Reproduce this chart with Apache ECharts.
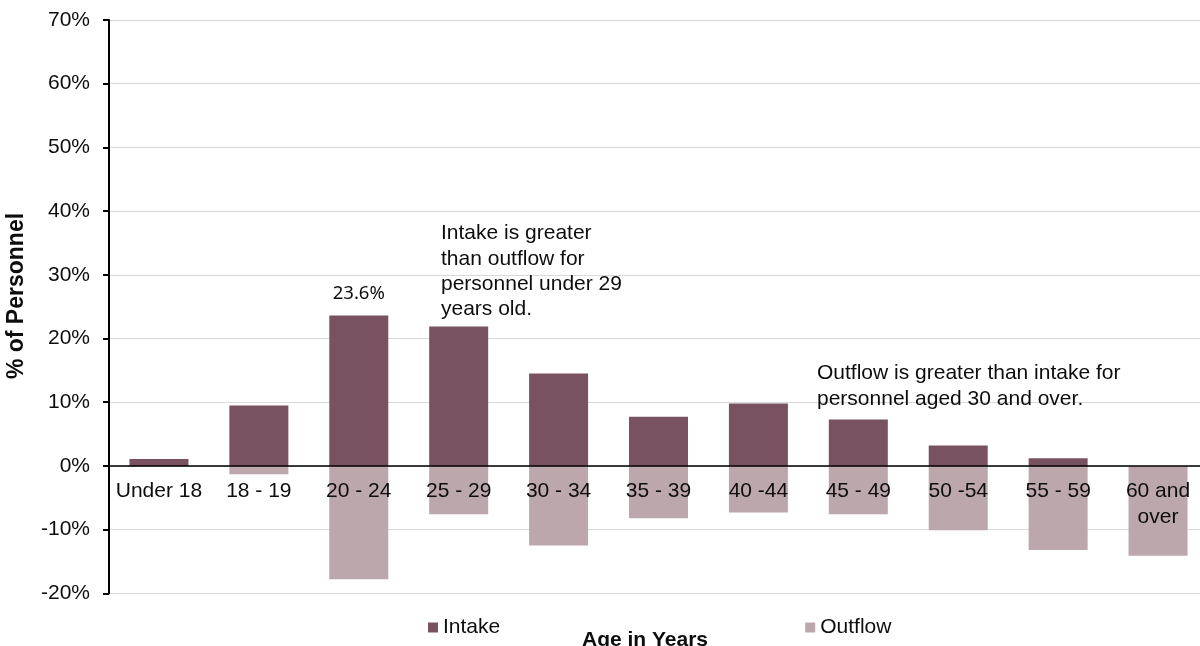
<!DOCTYPE html>
<html>
<head>
<meta charset="utf-8">
<script src="https://cdn.jsdelivr.net/npm/echarts@6/dist/echarts.min.js"></script>
<style>
  html, body { margin: 0; padding: 0; background: #ffffff; }
  #chart { width: 1200px; height: 646px; }
</style>
</head>
<body>
<div id="chart"></div>
<script>
// Age bands along the x axis
const ageGroups = ['Under 18', '18 - 19', '20 - 24', '25 - 29', '30 - 34', '35 - 39',
                   '40 -44', '45 - 49', '50 -54', '55 - 59', '60 and\nover'];
// Share of personnel (%) joining in each age band
const intake = [1.1, 9.5, 23.6, 21.9, 14.5, 7.7, 9.8, 7.3, 3.2, 1.2, 0];
// Share of personnel (%) leaving in each age band (drawn below zero)
const outflow = [0, -1.3, -17.8, -7.6, -12.5, -8.2, -7.3, -7.6, -10.1, -13.2, -14.1];
// Only this band carries a value label
const labelledBand = '20 - 24';

const FONT = '"Liberation Sans", Arial, sans-serif';
const INK = '#0d0d0d';

// Plot box and value range
const GRID_TOP = 20, GRID_H = 573.3, Y_MIN = -20, Y_MAX = 70;
// The category axis sits on the zero line, labels included
const zeroOffset = -GRID_H * (0 - Y_MIN) / (Y_MAX - Y_MIN);

const chart = echarts.init(document.getElementById('chart'), null, { renderer: 'canvas' });

const intakeData = intake.map((v, i) => ageGroups[i] === labelledBand
  ? { value: v, label: { show: true, position: 'top', distance: 12,
      formatter: p => p.value.toFixed(1) + '%',
      fontFamily: '"Noto Sans", "Open Sans", sans-serif', fontSize: 18.5, color: INK } }
  : v);

chart.setOption({
  animation: false,
  backgroundColor: '#ffffff',
  grid: { left: 109, top: GRID_TOP, width: 1099, height: GRID_H,
          containLabel: false, outerBoundsMode: 'none' },
  legend: {
    data: ['Intake', 'Outflow'],
    left: 423, top: 612,
    itemWidth: 10, itemHeight: 10, itemGap: 305,
    icon: 'rect',
    textStyle: { fontFamily: FONT, fontSize: 21, color: INK }
  },
  xAxis: {
    type: 'category',
    data: ageGroups,
    position: 'bottom',
    offset: zeroOffset,
    z: 5,
    axisLine: { onZero: false, lineStyle: { color: '#000000', width: 1.5 } },
    axisTick: { show: false },
    axisLabel: { fontFamily: FONT, fontSize: 21, color: INK, margin: 12, lineHeight: 26, interval: 0 },
    splitLine: { show: false }
  },
  yAxis: {
    type: 'value',
    min: Y_MIN, max: Y_MAX, interval: 10,
    axisLine: { show: true, lineStyle: { color: '#000000', width: 2 } },
    axisTick: { show: true, length: 6, lineStyle: { color: '#000000', width: 2 } },
    axisLabel: { fontFamily: FONT, fontSize: 21, color: INK, margin: 19,
                 formatter: '{value}%' },
    splitLine: { show: true, lineStyle: { color: '#d9d9d9', width: 1.2 } }
  },
  series: [
    { name: 'Intake', type: 'bar', data: intakeData, barWidth: 59,
      itemStyle: { color: '#785260' } },
    { name: 'Outflow', type: 'bar', data: outflow, barWidth: 59, barGap: '-100%',
      itemStyle: { color: '#bca7ac' } }
  ],
  graphic: [
    { type: 'text', left: 441, top: 221, z: 10,
      style: { text: 'Intake is greater\nthan outflow for\npersonnel under 29\nyears old.',
               font: '21px ' + FONT, fill: INK, lineHeight: 25.3 } },
    { type: 'text', left: 817, top: 361, z: 10,
      style: { text: 'Outflow is greater than intake for\npersonnel aged 30 and over.',
               font: '21px ' + FONT, fill: INK, lineHeight: 25.3 } },
    { type: 'text', x: 645, y: 640, z: 10,
      style: { text: 'Age in Years', font: 'bold 21px ' + FONT, fill: INK,
               align: 'center', verticalAlign: 'middle' } },
    { type: 'text', x: 17, y: 296, rotation: Math.PI / 2, z: 10,
      style: { text: '% of Personnel', font: 'bold 23px ' + FONT, fill: INK,
               align: 'center', verticalAlign: 'middle' } }
  ]
});
</script>
</body>
</html>
